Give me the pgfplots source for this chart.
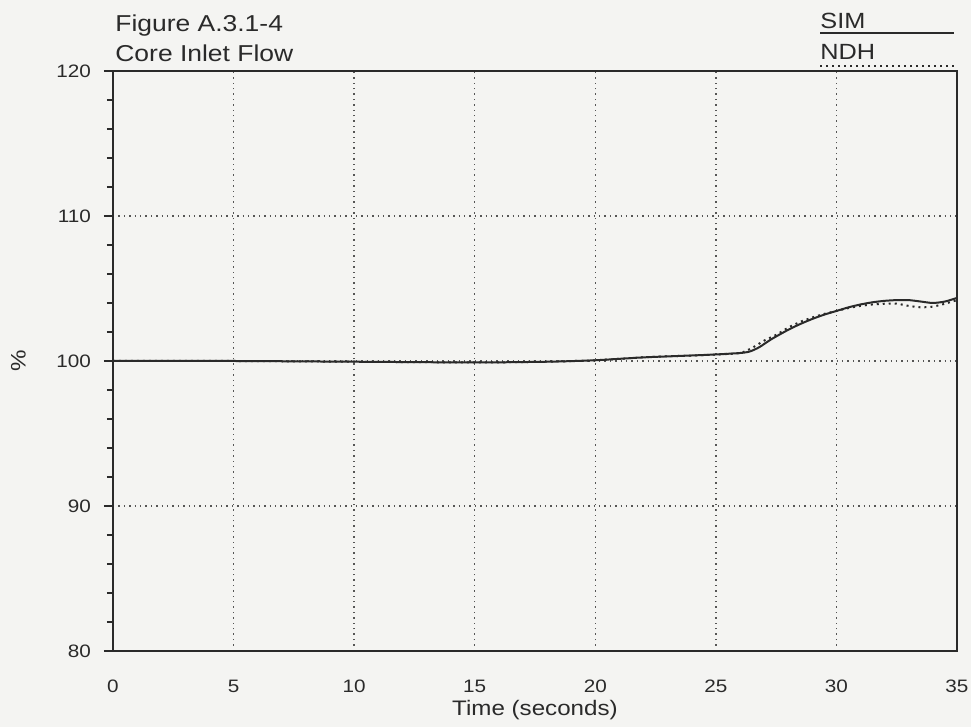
\documentclass[border=0pt]{standalone}
\usepackage{pgfplots}
\pgfplotsset{compat=1.18}
\usepackage{fontspec}
\setmainfont{Liberation Sans}[FakeStretch=1.15]
\definecolor{ink}{HTML}{2A2A2A}
\definecolor{paper}{HTML}{F4F4F2}
\begin{document}
\begin{tikzpicture}
\fill[paper] (-56.5pt,-38pt) rectangle (429pt,325.5pt);
\useasboundingbox (-56.5pt,-38pt) rectangle (429pt,325.5pt);
\begin{axis}[
  at={(0,0)}, anchor=south west,
  scale only axis, width=422pt, height=290pt,
  xmin=0, xmax=35, ymin=80, ymax=120,
  xtick={0,5,...,35}, ytick={80,90,...,120},
  minor y tick num=4,
  axis line style={ink, line width=1.1pt},
  tick style={ink, line width=0.8pt},
  tick align=outside,
  major tick length=4.5pt, minor tick length=3pt,
  x tick style={draw=none},
  xtick pos=bottom, ytick pos=left,
  grid=major,
  major grid style={ink!80, line width=0.7pt, dotted},
  ticklabel style={font=\fontsize{9}{10}\selectfont, text=ink},
  xticklabel style={yshift=-6.5pt},
  yticklabel style={xshift=-3pt},
  xlabel={Time (seconds)}, ylabel={\%},
  label style={font=\fontsize{10.5}{12}\selectfont, text=ink},
  xlabel style={yshift=3pt},
  ylabel style={yshift=8.5pt},
  /pgf/number format/assume math mode=true,
  clip=false,
]
\addplot[ink, line width=1pt, smooth, tension=0.4] coordinates {
(0,100.0) (5,100.0) (10,99.95) (15,99.9) (18,99.95) (20,100.05) (22,100.25) (24,100.38) (25,100.45) (26,100.55) (26.4,100.65) (26.8,100.95) (27.3,101.5) (28,102.15) (28.5,102.55) (29,102.9) (29.5,103.2) (30,103.45) (30.5,103.7) (31,103.9) (31.5,104.05) (32,104.15) (32.5,104.2) (33,104.2) (33.5,104.1) (34,104.0) (34.5,104.1) (35,104.35)
};
\addplot[ink, line width=1pt, dotted, smooth, tension=0.4] coordinates {
(0,100.0) (5,100.0) (10,99.95) (15,99.9) (18,99.95) (20,100.05) (22,100.25) (24,100.38) (25,100.45) (26,100.55) (26.5,100.9) (27,101.4) (27.5,101.8) (28,102.3) (28.5,102.7) (29,103.0) (29.5,103.25) (30,103.45) (30.5,103.65) (31,103.8) (31.5,103.9) (32,103.95) (32.5,103.95) (33,103.8) (33.5,103.7) (34,103.75) (34.5,103.95) (35,104.2)
};
\end{axis}
\node[anchor=base west, inner sep=0pt, font=\fontsize{11.5}{13}\selectfont, text=ink] at (1pt,309.5pt) {Figure A.3.1-4};
\node[anchor=base west, inner sep=0pt, font=\fontsize{11.5}{13}\selectfont, text=ink] at (1pt,294.5pt) {Core Inlet Flow};
\node[anchor=base west, inner sep=0pt, font=\fontsize{11}{13}\selectfont, text=ink] at (353.5pt,311pt) {SIM};
\node[anchor=base west, inner sep=0pt, font=\fontsize{11}{13}\selectfont, text=ink] at (353.5pt,295.5pt) {NDH};
\draw[ink, line width=0.8pt] (353.5pt,309pt) -- (420.5pt,309pt);
\draw[ink, line width=1pt, dotted] (353.5pt,292.5pt) -- (420.5pt,292.5pt);
\end{tikzpicture}
\end{document}
